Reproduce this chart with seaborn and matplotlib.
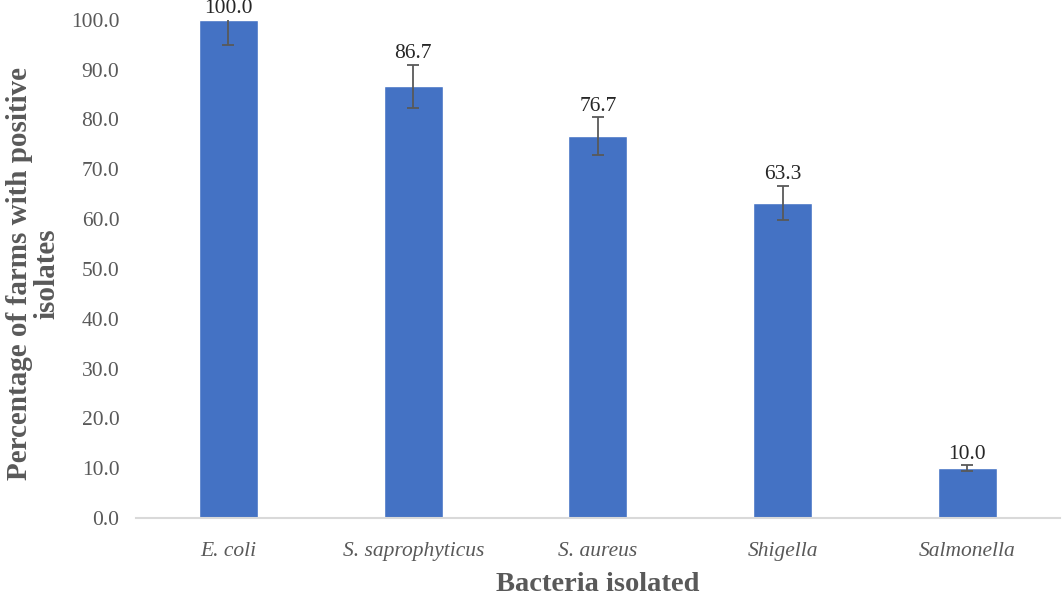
import seaborn as sns
import matplotlib.pyplot as plt
import pandas as pd

bacteria = ["E. coli", "S. saprophyticus", "S. aureus", "Shigella", "Salmonella"]
percent = [100.0, 86.7, 76.7, 63.3, 10.0]
err = [5.0, 4.3, 3.8, 3.4, 0.6]

df = pd.DataFrame({"bacteria": bacteria, "percent": percent})

sns.set_style("white")
plt.rcParams['font.family'] = ['Liberation Serif', 'DejaVu Serif']

fig = plt.figure(figsize=(10.63, 6.02), dpi=100)
ax = fig.add_axes([0.128, 0.1395, 0.869, 0.8275])

sns.barplot(data=df, x="bacteria", y="percent", color="#4472C4",
            saturation=1, width=0.32, ax=ax)
ax.errorbar(range(len(bacteria)), percent, yerr=err, fmt="none",
            ecolor="#595959", elinewidth=1.3, capsize=4, capthick=1.3)

# value labels sit just above the error cap (clipped at the top of the axis)
for i, v in enumerate(percent):
    y = min(v + err[i], 100) + 0.3
    ax.text(i, y, f"{v:.1f}", ha="center", va="bottom",
            fontsize=15.5, color="#262626", clip_on=False)

ax.set_ylim(0, 100)
ax.set_xlim(-0.5, 4.5)
ax.set_yticks(range(0, 101, 10))
ax.set_yticklabels([f"{t:.1f}" for t in range(0, 101, 10)], fontsize=15.5, color="#595959")
ax.set_xticks(range(len(bacteria)))
ax.set_xticklabels(bacteria, fontsize=15.5, style="italic", color="#595959")
ax.tick_params(axis="y", length=0, pad=12)
ax.tick_params(axis="x", length=0, pad=17)

for s in ["top", "right", "left"]:
    ax.spines[s].set_visible(False)
ax.spines["bottom"].set_color("#D9D9D9")
ax.spines["bottom"].set_linewidth(1.5)

ax.set_xlabel("Bacteria isolated", fontsize=20.5, fontweight="bold", color="#595959", labelpad=8)
ax.set_ylabel("Percentage of farms with positive\nisolates", fontsize=21,
              fontweight="bold", color="#595959", linespacing=1.0)
ax.yaxis.set_label_coords(-0.082, 0.49)

fig.savefig("out.png", dpi=100)
